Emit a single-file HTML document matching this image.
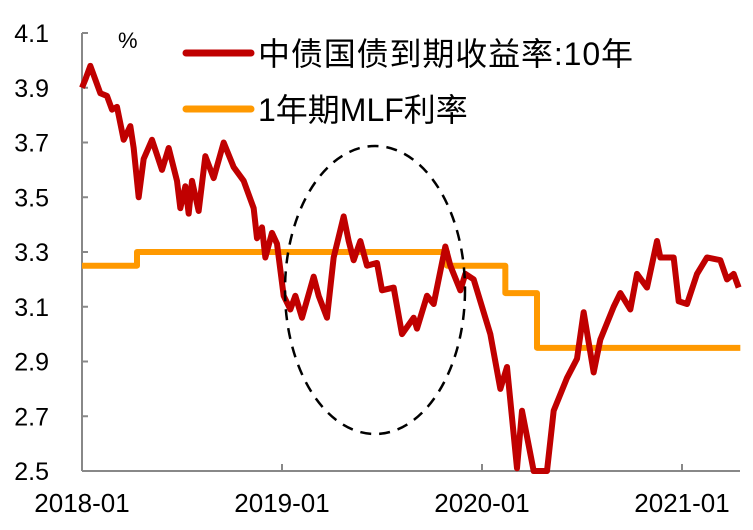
<!DOCTYPE html>
<html><head><meta charset="utf-8">
<style>
html,body{margin:0;padding:0;background:#fff;}
svg{display:block;}
text{font-family:"Liberation Sans","Noto Sans CJK SC",sans-serif;fill:#000;}
</style></head>
<body>
<svg id="chart" width="753" height="530" viewBox="0 0 753 530" xmlns="http://www.w3.org/2000/svg">
  <g id="grid"></g>
  <g id="series"></g>
  <ellipse cx="375" cy="290" rx="90" ry="144" fill="none" stroke="#000" stroke-width="2.5" stroke-dasharray="11,8"/>
  <text x="118" y="48" font-size="22">%</text>
  <g>
    <line x1="186" y1="53" x2="251" y2="53" stroke="#C00000" stroke-width="7" stroke-linecap="round"/>
    <text x="258" y="65" font-size="32" textLength="375">中债国债到期收益率:10年</text>
    <line x1="186" y1="109" x2="251" y2="109" stroke="#FF9900" stroke-width="7" stroke-linecap="round"/>
    <text x="258" y="121" font-size="32">1年期MLF利率</text>
  </g>
</svg>
<script>
// months since 2018-01
const yieldMonths = [0,0.2,0.5,0.8,1.1,1.5,1.8,2.1,2.5,2.9,3.1,3.4,3.7,4.2,4.8,5.2,5.7,5.9,6.2,6.4,6.6,7.0,7.4,7.9,8.5,9.1,9.7,10.3,10.5,10.8,11.0,11.4,11.7,12.1,12.5,12.8,13.2,13.9,14.2,14.7,15.1,15.7,16.0,16.3,16.7,17.1,17.7,18.0,18.7,19.2,19.9,20.1,20.7,21.1,21.8,22.1,22.7,23.0,23.5,24.5,25.1,25.5,26.1,26.4,27.1,27.9,28.3,29.1,29.7,30.1,30.7,31.1,31.9,32.3,32.9,33.3,33.9,34.5,34.7,35.5,35.8,36.3,36.9,37.5,38.3,38.7,39.1,39.4];
const yieldValues = [3.90,3.93,3.98,3.93,3.88,3.87,3.82,3.83,3.71,3.76,3.68,3.50,3.64,3.71,3.60,3.68,3.56,3.46,3.54,3.44,3.56,3.45,3.65,3.57,3.70,3.61,3.56,3.46,3.35,3.39,3.28,3.37,3.33,3.14,3.09,3.14,3.06,3.21,3.14,3.06,3.28,3.43,3.34,3.27,3.34,3.25,3.26,3.16,3.17,3.00,3.06,3.02,3.14,3.11,3.32,3.25,3.16,3.22,3.20,3.00,2.80,2.88,2.51,2.72,2.50,2.50,2.72,2.84,2.91,3.08,2.86,2.98,3.10,3.15,3.09,3.22,3.17,3.34,3.28,3.28,3.12,3.11,3.22,3.28,3.27,3.20,3.22,3.17];
const mlfMonths = [0,3.3,21.9,25.4,27.3,39.5];
const mlfValues = [3.25,3.30,3.25,3.15,2.95,2.95];
const yTicks = [2.5,2.7,2.9,3.1,3.3,3.5,3.7,3.9,4.1];
const xTickMonths = [0,12,24,36];
const xTickLabels = ["2018-01","2019-01","2020-01","2021-01"];

const NS="http://www.w3.org/2000/svg";
const X0=82, XEND=740, MONTHPX=200/12, YB=471, YT=33;
const xs = m => X0 + m*MONTHPX;
const ys = v => YB - (v-2.5)/(4.1-2.5)*(YB-YT);
function mk(tag, attrs, parent){const e=document.createElementNS(NS,tag);for(const k in attrs)e.setAttribute(k,attrs[k]);parent.appendChild(e);return e;}
const grid=document.getElementById('grid'), ser=document.getElementById('series');

let ax=mk('line',{x1:X0,y1:YT,x2:X0,y2:YB,stroke:'#888','stroke-width':2},grid);


let bx=mk('line',{x1:X0,y1:YB,x2:XEND,y2:YB,stroke:'#888','stroke-width':2},grid);


yTicks.forEach(v=>{
  const t=mk('line',{x1:X0,y1:ys(v),x2:X0+6,y2:ys(v),stroke:'#888','stroke-width':2},grid);
  
  
  const l=mk('text',{x:49,y:ys(v)+9,'font-size':25,'text-anchor':'end'},grid);
  l.textContent=v.toFixed(1);
  
  
});
xTickMonths.forEach((m,i)=>{
  if(m>0){const t=mk('line',{x1:xs(m),y1:YB,x2:xs(m),y2:YB-7,stroke:'#888','stroke-width':2},grid);
  
  }
  const l=mk('text',{x:xs(m),y:512,'font-size':26,'text-anchor':'middle'},grid);
  l.textContent=xTickLabels[i];
  
  
});
// MLF step line
let d='';
mlfMonths.forEach((m,i)=>{
  if(i===0) d+='M'+xs(m)+','+ys(mlfValues[i]);
  else { d+=' L'+xs(m)+','+ys(mlfValues[i-1])+' L'+xs(m)+','+ys(mlfValues[i]); }
});
const mlf=mk('path',{d:d,fill:'none',stroke:'#FF9900','stroke-width':6,'stroke-linejoin':'round'},ser);


const yl=mk('polyline',{points:yieldMonths.map((m,i)=>xs(m)+','+ys(yieldValues[i])).join(' '),fill:'none',stroke:'#C00000','stroke-width':6,'stroke-linejoin':'round'},ser);


</script>
</body></html>
